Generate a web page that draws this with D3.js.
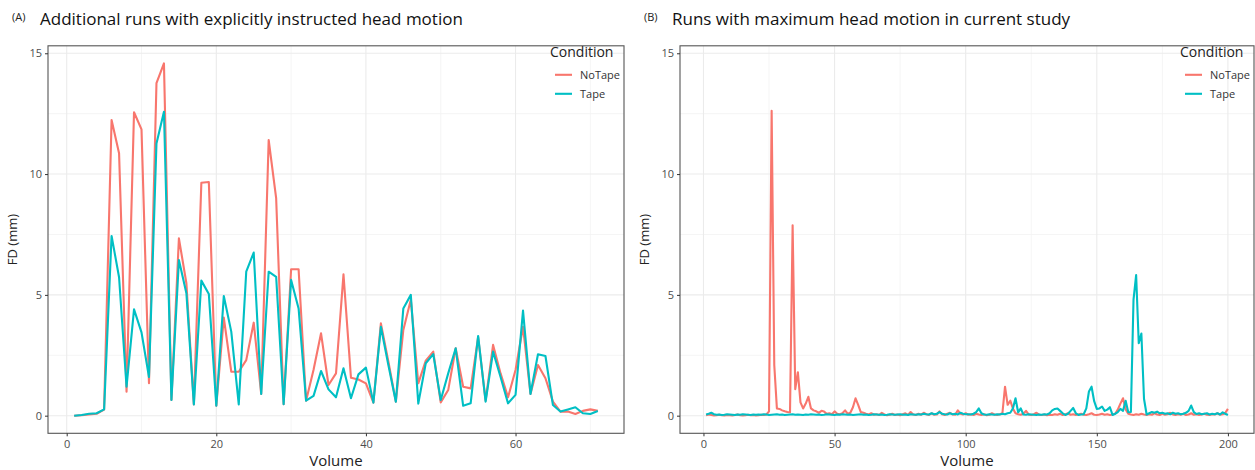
<!DOCTYPE html>
<html>
<head>
<meta charset="utf-8">
<script src="https://cdn.jsdelivr.net/npm/d3@7/dist/d3.min.js"></script>
<style>
body { margin: 0; background: #fff; }
text { font-family: "Open Sans", sans-serif; }
</style>
</head>
<body>
<script>
// panel A: additional runs, volumes 1..71
var notapeA = [0.00,0.02,0.05,0.08,0.25,12.24,10.86,0.99,12.56,11.85,1.34,13.76,14.58,0.65,7.34,5.48,0.47,9.64,9.67,0.41,
	4.06,1.82,1.82,2.30,3.85,0.90,11.41,9.00,0.48,6.06,6.06,0.62,1.90,3.41,1.27,1.75,5.85,1.57,1.50,1.34,
	0.54,3.82,2.24,0.58,3.55,4.80,1.34,2.28,2.65,0.55,1.06,2.79,1.20,1.13,3.25,0.62,2.93,1.75,0.76,1.89,
	3.68,0.90,2.10,1.55,0.58,0.17,0.17,0.07,0.20,0.26,0.20];
var tapeA = [0.00,0.03,0.08,0.10,0.26,7.44,5.73,1.20,4.40,3.45,1.60,11.27,12.58,0.65,6.44,5.07,0.47,5.59,5.04,0.41,
	4.95,3.48,0.47,5.96,6.75,0.90,5.96,5.75,0.48,5.62,4.44,0.62,0.82,1.85,1.09,0.76,1.96,0.72,1.71,1.99,
	0.54,3.68,2.10,0.58,4.44,5.00,0.50,2.17,2.55,0.65,1.75,2.79,0.41,0.51,3.30,0.58,2.65,1.60,0.51,0.86,
	4.35,0.90,2.54,2.47,0.44,0.17,0.26,0.35,0.10,0.07,0.19];

// panel B: maximum-motion runs, volumes 1..200
var notapeB = [0.02,0.05,0.03,0.01,0.02,0.04,0.02,0.01,0.03,0.02,0.01,0.03,0.05,0.02,0.01,0.02,0.04,0.02,0.03,0.01,
	0.02,0.04,0.03,0.05,0.18,12.62,2.10,0.30,0.28,0.22,0.18,0.15,0.14,7.88,1.10,1.80,0.55,0.30,0.50,0.78,
	0.30,0.22,0.18,0.12,0.20,0.17,0.08,0.10,0.06,0.18,0.08,0.06,0.10,0.22,0.08,0.12,0.35,0.72,0.45,0.15,
	0.12,0.08,0.05,0.10,0.04,0.06,0.03,0.12,0.05,0.02,0.04,0.08,0.03,0.05,0.02,0.06,0.10,0.03,0.15,0.05,
	0.03,0.08,0.04,0.12,0.06,0.03,0.10,0.04,0.05,0.18,0.06,0.03,0.08,0.12,0.05,0.04,0.22,0.08,0.05,0.10,
	0.04,0.06,0.03,0.08,0.05,0.03,0.06,0.02,0.04,0.10,0.05,0.03,0.06,0.10,1.20,0.45,0.62,0.30,0.10,0.06,
	0.04,0.08,0.20,0.05,0.03,0.06,0.12,0.04,0.03,0.05,0.02,0.04,0.03,0.06,0.04,0.08,0.03,0.05,0.10,0.04,
	0.06,0.03,0.05,0.08,0.04,0.03,0.06,0.10,0.04,0.03,0.05,0.08,0.04,0.06,0.03,0.05,0.08,0.25,0.50,0.72,
	0.26,0.08,0.05,0.03,0.06,0.04,0.08,0.05,0.03,0.06,0.04,0.10,0.05,0.03,0.08,0.04,0.06,0.12,0.05,0.03,
	0.06,0.04,0.08,0.03,0.05,0.10,0.04,0.06,0.03,0.05,0.08,0.04,0.03,0.06,0.05,0.10,0.04,0.06,0.12,0.28];
var tapeB = [0.05,0.08,0.12,0.06,0.04,0.05,0.03,0.04,0.06,0.05,0.04,0.03,0.05,0.04,0.06,0.05,0.04,0.03,0.05,0.04,
	0.05,0.04,0.06,0.05,0.03,0.04,0.05,0.06,0.04,0.05,0.03,0.04,0.05,0.06,0.04,0.05,0.04,0.03,0.05,0.04,
	0.06,0.05,0.04,0.05,0.03,0.04,0.06,0.05,0.04,0.03,0.05,0.04,0.06,0.05,0.04,0.05,0.03,0.04,0.05,0.06,
	0.04,0.05,0.03,0.04,0.06,0.05,0.04,0.05,0.03,0.04,0.06,0.05,0.04,0.05,0.06,0.04,0.05,0.03,0.06,0.05,
	0.04,0.06,0.05,0.08,0.06,0.05,0.10,0.06,0.08,0.15,0.08,0.06,0.05,0.10,0.06,0.08,0.05,0.12,0.08,0.06,
	0.06,0.05,0.08,0.15,0.30,0.10,0.05,0.04,0.06,0.05,0.04,0.06,0.05,0.08,0.06,0.10,0.12,0.30,0.72,0.14,
	0.30,0.05,0.04,0.06,0.05,0.04,0.03,0.05,0.04,0.06,0.05,0.10,0.22,0.28,0.30,0.20,0.10,0.03,0.08,0.20,
	0.32,0.10,0.03,0.05,0.06,0.30,1.00,1.20,0.60,0.28,0.30,0.38,0.20,0.25,0.35,0.03,0.08,0.15,0.28,0.20,
	0.62,0.14,0.15,4.80,5.82,3.00,3.40,0.70,0.05,0.10,0.15,0.12,0.17,0.10,0.12,0.08,0.10,0.06,0.12,0.08,
	0.10,0.06,0.08,0.12,0.20,0.42,0.15,0.07,0.10,0.06,0.08,0.10,0.05,0.08,0.06,0.10,0.05,0.14,0.08,0.03];

var conditions = ["NoTape", "Tape"];
var colors = ["#F8766D", "#00BFC4"];
var yTicks = [0, 5, 10, 15];

var width = 1255, height = 470;
var plotTop = 45.8, plotBottom = 433.3;

var svg = d3.select("body")
	.append("svg")
		.attr("width", width)
		.attr("height", height);

// shared y scale, ggplot style 5% expansion on the data range
var yMax = d3.max(notapeA.concat(tapeA, notapeB, tapeB));
var y = d3.scaleLinear()
	.domain([-0.05 * yMax, yMax * 1.05])
	.range([plotBottom, plotTop]);

drawPanel({
	tag: "(A)",
	title: "Additional runs with explicitly instructed head motion",
	left: 48, right: 624,
	series: [notapeA, tapeA],
	xTicks: [0, 20, 40, 60],
	xMinor: [10, 30, 50, 70]
});

drawPanel({
	tag: "(B)",
	title: "Runs with maximum head motion in current study",
	left: 680, right: 1254,
	series: [notapeB, tapeB],
	xTicks: [0, 50, 100, 150, 200],
	xMinor: [25, 75, 125, 175]
});

function drawPanel(p) {
	var n = p.series[0].length;
	var pad = (n - 1) * 0.05;
	var x = d3.scaleLinear()
		.domain([1 - pad, n + pad])
		.range([p.left, p.right]);

	var g = svg.append("g");

	g.append("text")
		.attr("x", p.left - 36)
		.attr("y", 21)
		.attr("font-size", "11px")
		.attr("fill", "#222")
		.text(p.tag);

	g.append("text")
		.attr("x", p.left - 8)
		.attr("y", 25)
		.attr("font-size", "17px")
		.attr("fill", "#111")
		.text(p.title);

	// minor grid
	g.selectAll("line.minx")
		.data(p.xMinor)
	.enter()
	.append("line")
		.attr("x1", function(d) { return x(d); })
		.attr("x2", function(d) { return x(d); })
		.attr("y1", plotTop).attr("y2", plotBottom)
		.attr("stroke", "#f2f2f2")
		.attr("stroke-width", 0.8);
	g.selectAll("line.miny")
		.data([2.5, 7.5, 12.5])
	.enter()
	.append("line")
		.attr("x1", p.left).attr("x2", p.right)
		.attr("y1", function(d) { return y(d); })
		.attr("y2", function(d) { return y(d); })
		.attr("stroke", "#f2f2f2")
		.attr("stroke-width", 0.8);

	// major grid
	g.selectAll("line.majx")
		.data(p.xTicks)
	.enter()
	.append("line")
		.attr("x1", function(d) { return x(d); })
		.attr("x2", function(d) { return x(d); })
		.attr("y1", plotTop).attr("y2", plotBottom)
		.attr("stroke", "#ebebeb")
		.attr("stroke-width", 1.1);
	g.selectAll("line.majy")
		.data(yTicks)
	.enter()
	.append("line")
		.attr("x1", p.left).attr("x2", p.right)
		.attr("y1", function(d) { return y(d); })
		.attr("y2", function(d) { return y(d); })
		.attr("stroke", "#ebebeb")
		.attr("stroke-width", 1.1);

	// series lines
	var line = d3.line()
		.x(function(d, i) { return x(i + 1); })
		.y(function(d) { return y(d); });

	p.series.forEach(function(s, k) {
		g.append("path")
			.datum(s)
			.attr("d", line)
			.attr("fill", "none")
			.attr("stroke", colors[k])
			.attr("stroke-width", 2.1)
			.attr("stroke-linejoin", "round");
	});

	// panel border
	g.append("rect")
		.attr("x", p.left)
		.attr("y", plotTop)
		.attr("width", p.right - p.left)
		.attr("height", plotBottom - plotTop)
		.attr("fill", "none")
		.attr("stroke", "#555")
		.attr("stroke-width", 1.1);

	// axes
	var xAxis = g.append("g")
		.attr("transform", "translate(0," + plotBottom + ")")
		.call(d3.axisBottom(x).tickValues(p.xTicks).tickSize(3).tickPadding(4));
	var yAxis = g.append("g")
		.attr("transform", "translate(" + p.left + ",0)")
		.call(d3.axisLeft(y).tickValues(yTicks).tickSize(3).tickPadding(3));
	[xAxis, yAxis].forEach(function(a) {
		a.select(".domain").remove();
		a.selectAll(".tick line").attr("stroke", "#333");
		a.selectAll(".tick text")
			.attr("fill", "#4d4d4d")
			.attr("font-size", "11px")
			.attr("font-family", "Open Sans, sans-serif");
	});

	g.append("text")
		.attr("x", (p.left + p.right) / 2)
		.attr("y", 466)
		.attr("text-anchor", "middle")
		.attr("font-size", "15px")
		.attr("fill", "#222")
		.text("Volume");

	g.append("text")
		.attr("transform", "translate(" + (p.left - 31) + "," + ((plotTop + plotBottom) / 2) + ") rotate(-90)")
		.attr("text-anchor", "middle")
		.attr("font-size", "13px")
		.attr("fill", "#222")
		.text("FD (mm)");

	// legend
	var lg = g.append("g")
		.attr("transform", "translate(" + (p.right - 74) + "," + plotTop + ")");
	lg.append("text")
		.attr("x", 0).attr("y", 11)
		.attr("font-size", "14px")
		.attr("fill", "#222")
		.text("Condition");
	lg.selectAll("g.key")
		.data(conditions)
	.enter()
	.append("g")
		.attr("transform", function(d, i) { return "translate(0," + (29 + i * 19) + ")"; })
		.each(function(d, i) {
			var k = d3.select(this);
			k.append("line")
				.attr("x1", 5).attr("x2", 22)
				.attr("y1", 0).attr("y2", 0)
				.attr("stroke", colors[i])
				.attr("stroke-width", 2.1);
			k.append("text")
				.attr("x", 30).attr("y", 4)
				.attr("font-size", "11px")
				.attr("fill", "#333")
				.text(d);
		});
}
</script>
</body>
</html>
